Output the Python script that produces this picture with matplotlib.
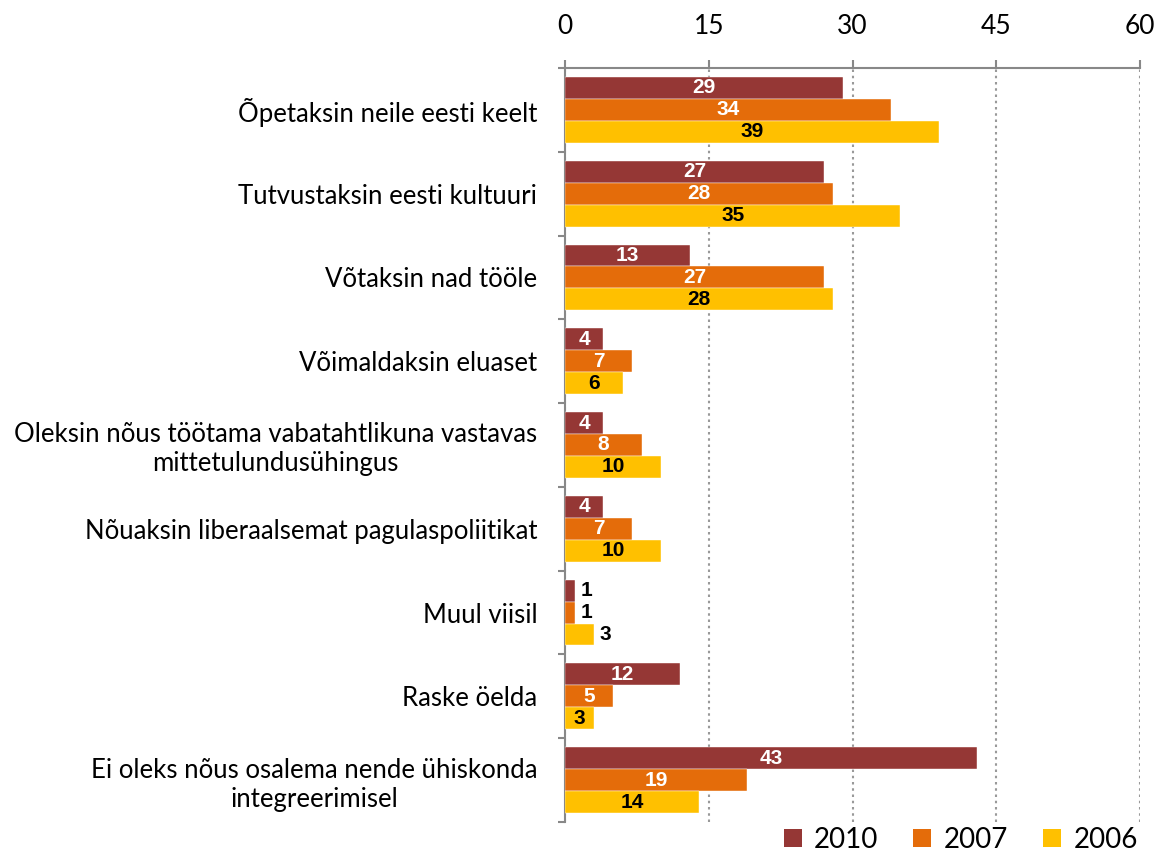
import numpy as np
import matplotlib.pyplot as plt
from matplotlib.patches import Patch

plt.rcParams["font.family"] = ["Lato", "DejaVu Sans"]

categories = [
    "Õpetaksin neile eesti keelt",
    "Tutvustaksin eesti kultuuri",
    "Võtaksin nad tööle",
    "Võimaldaksin eluaset",
    "Oleksin nõus töötama vabatahtlikuna vastavas\nmittetulundusühingus",
    "Nõuaksin liberaalsemat pagulaspoliitikat",
    "Muul viisil",
    "Raske öelda",
    "Ei oleks nõus osalema nende ühiskonda\nintegreerimisel",
]
years = ["2010", "2007", "2006"]
v2010 = [29, 27, 13, 4, 4, 4, 1, 12, 43]
v2007 = [34, 28, 27, 7, 8, 7, 1, 5, 19]
v2006 = [39, 35, 28, 6, 10, 10, 3, 3, 14]
series = [v2010, v2007, v2006]
colors = ["#953735", "#E46C0A", "#FFC000"]
label_colors = ["white", "white", "black"]
outside_row = 6  # "Muul viisil" labels sit right of the bars

fig = plt.figure(figsize=(11.64, 8.52), dpi=100)
ax = fig.add_axes([0.4854, 0.0352, 0.4940, 0.885])

n = len(categories)
y = np.arange(n)
h = 0.262
lab_font = dict(fontsize=15, fontweight="bold", family=["Liberation Sans Narrow", "Liberation Sans"])
for i, (vals, c, lc) in enumerate(zip(series, colors, label_colors)):
    pos = y + (i - 1) * h
    ax.barh(pos, vals, height=h, color=c, edgecolor="white", linewidth=0.3, zorder=3)
    for k, (p, v) in enumerate(zip(pos, vals)):
        if k == outside_row:
            ax.text(v + 1.2, p, str(v), ha="center", va="center", color="black",
                    zorder=4, **lab_font)
        else:
            ax.text(v / 2, p, str(v), ha="center", va="center", color=lc,
                    zorder=4, **lab_font)

ax.set_xlim(0, 60)
ax.set_ylim(n - 0.5, -0.5)
ax.xaxis.tick_top()
ax.set_xticks([0, 15, 30, 45, 60])
ax.tick_params(axis="x", direction="out", length=6, color="#888888", width=1.5,
               labelsize=19, pad=15)
ax.set_yticks(np.arange(n + 1) - 0.5, minor=False)
ax.set_yticklabels([])
ax.tick_params(axis="y", direction="out", length=5, color="#888888", width=1.5)
ax.set_yticks(y, minor=True)
ax.set_yticklabels(categories, minor=True, fontsize=18.5, multialignment="center")
ax.tick_params(axis="y", which="minor", length=0, pad=20)

ax.grid(axis="x", linestyle=(0, (1.2, 1.8)), color="#999999", linewidth=1.5, zorder=0)
for s in ["right", "bottom"]:
    ax.spines[s].set_visible(False)
for s in ["top", "left"]:
    ax.spines[s].set_color("#888888")
    ax.spines[s].set_linewidth(1.5)

handles = [Patch(facecolor=c, label=yr) for c, yr in zip(colors, years)]
fig.legend(handles=handles, loc="lower right", bbox_to_anchor=(0.999, -0.03), ncol=3,
           frameon=False, fontsize=20, handlelength=0.65, handleheight=0.65,
           handletextpad=0.45, columnspacing=1.25)

fig.savefig("out.png", dpi=100)
